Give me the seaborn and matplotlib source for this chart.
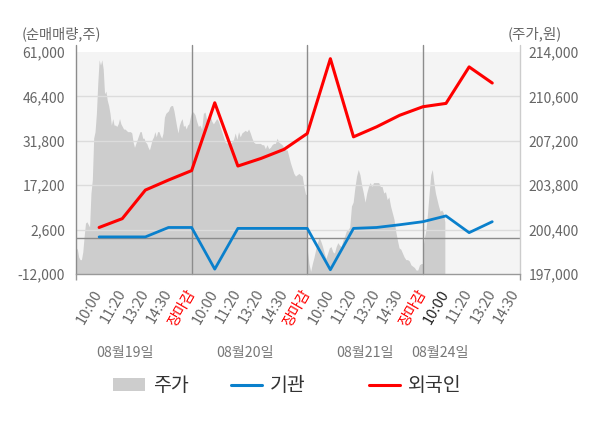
import numpy as np
import pandas as pd
import matplotlib.pyplot as plt
import matplotlib.transforms as mtransforms
import seaborn as sns
from matplotlib.patches import Patch
from matplotlib.lines import Line2D

# x axis labels (4 trading days, intraday checkpoints)
time_labels = ['10:00', '11:20', '13:20', '14:30', '장마감'] * 3 + ['10:00', '11:20', '13:20', '14:30']
date_labels = ['08월19일', '08월20일', '08월21일', '08월24일']

# net buying volume (shares) at each checkpoint
institution = [200, 200, 200, 3300, 3300, -10400, 3000, 3000, 3000, 3000,
               -10600, 3000, 3300, 4200, 5200, 7100, 1600, 5200]
foreign = [3300, 6200, 15600, 18900, 22000, 44300, 23500, 26000, 29000, 34200,
           58800, 33100, 36400, 40200, 43000, 44100, 56100, 50800]

# intraday stock price (won), one list per day
price_day1 = [199000, 198900, 198300, 198100, 198100, 198700, 199900, 200900, 201000, 200800,
              200600, 203200, 204200, 207400, 207900, 209300, 211600, 213400, 213000, 213400,
              212700, 210800, 211000, 210300, 209900, 209300, 208400, 208900, 208400, 208400,
              208300, 208500, 208900, 208500, 208300, 208100, 208100, 208000, 207900, 207900,
              207900, 207800, 207100, 206700, 207000, 207300, 207600, 207900, 207900, 207400,
              207400, 207100, 207000, 206700, 206500, 206900, 207300, 207500, 207900, 207500,
              207900, 207900, 207600, 207400, 207800, 209000, 209300, 209400, 209500, 209800,
              209900, 209900, 209500, 208900, 208300, 207800, 208400, 208700, 208900, 208300,
              208400, 208100, 208400, 208500, 209000, 209400]
price_day2 = [209400, 209400, 209200, 208700, 208300, 208400, 208100, 209300, 209400, 208800,
              209000, 209200, 208700, 208500, 208700, 208900, 208700, 208300, 207900, 207500,
              207100, 207000, 207300, 207000, 207100, 207300, 207800, 207300, 207900, 207500,
              207800, 207900, 208000, 207900, 208100, 207800, 207400, 207100, 207000, 207000,
              207000, 207000, 206900, 206900, 206600, 206900, 206600, 206700, 206900, 207000,
              207000, 207400, 207100, 207000, 206900, 206700, 206500, 206500, 206000, 205500,
              205100, 204700, 204500, 204600, 204700, 204600, 204500, 203700, 203100, 203100]
price_day3 = [198900, 197800, 197200, 197800, 198300, 198900, 199400, 199800, 199500, 199100,
              198600, 198200, 198600, 199000, 199100, 198700, 198600, 199100, 199400, 199200,
              199100, 199600, 199900, 200300, 200400, 200600, 202200, 202500, 203600, 204500,
              205000, 204600, 203800, 203200, 202500, 203200, 203700, 204000, 203700, 204000,
              204000, 204000, 204000, 203700, 203700, 203200, 203300, 202700, 202900, 202200,
              201700, 201200, 200300, 199600, 199000, 198900, 198600, 198300, 198100, 198100,
              198000, 197700, 197600, 197500, 197300, 197300, 197700, 197800, 197800]
price_day4 = [199000, 199800, 200400, 201700, 203200, 204600, 205000, 204000, 203200, 202700,
              202200, 201800, 201900, 201700, 201000]

left_ticks = [-12000, 2600, 17200, 31800, 46400, 61000]
right_ticks = [197000, 200400, 203800, 207200, 210600, 214000]

sns.set_theme(style='white')
plt.rcParams['font.family'] = ['Noto Sans CJK KR', 'DejaVu Sans']

# price samples are spread over each day's slot
day_edges = [-1, 4, 9, 14, 14.95]
price_days = [price_day1, price_day2, price_day3, price_day4]
price_x = np.concatenate([np.linspace(day_edges[i], day_edges[i + 1], len(p))
                          for i, p in enumerate(price_days)])
price = np.concatenate(price_days)

flows = pd.DataFrame({'pos': np.arange(len(foreign)), '기관': institution, '외국인': foreign})
x_right = 18.2

fig = plt.figure(figsize=(6, 4.28), dpi=100)
ax = fig.add_axes([76 / 600, 154 / 428, 444 / 600, 222 / 428])
ax2 = ax.twinx()
ax.set_zorder(ax2.get_zorder() + 1)
ax.patch.set_visible(False)
ax2.patch.set_visible(True)
ax2.set_facecolor('#f4f4f4')

ax2.fill_between(price_x, price, right_ticks[0], color='#cdcdcd', lw=0)
ax2.set_ylim(right_ticks[0], right_ticks[-1])

# grid, zero line and day separators
for v in left_ticks[1:-1]:
    ax.axhline(v, color='#dcdcdc', lw=1, zorder=1)
ax.axhline(0, color='#8c8c8c', lw=1, zorder=2)
for x in day_edges[:-1]:
    ax.axvline(x, ymin=0, ymax=1.03, color='#8c8c8c', lw=1, clip_on=False, zorder=2)
ax.axvline(x_right, ymin=0, ymax=1.03, color='#cccccc', lw=1, clip_on=False, zorder=2)

sns.lineplot(data=flows, x='pos', y='외국인', color='#ff0000', lw=2.2, ax=ax, zorder=4)
sns.lineplot(data=flows, x='pos', y='기관', color='#0a80cc', lw=2.0, ax=ax, zorder=3)

ax.set_xlim(-1, x_right)
ax.set_ylim(left_ticks[0], left_ticks[-1])
ax.set_xlabel('')
ax.set_ylabel('')

ax.set_yticks(left_ticks)
ax.set_yticklabels([f'{v:,}' for v in left_ticks])
ax.tick_params(axis='y', length=0, pad=8, labelsize=10, labelcolor='#666666')
ax2.set_yticks(right_ticks)
ax2.set_yticklabels([f'{v:,}' for v in right_ticks])
ax2.tick_params(axis='y', length=0, pad=6, labelsize=10, labelcolor='#666666')

ax.set_xticks(np.arange(len(time_labels)))
ax.set_xticklabels(time_labels, rotation=60, ha='right', va='center', rotation_mode='anchor')
ax.tick_params(axis='x', which='major', length=0, pad=12, labelsize=10.5, labelcolor='#666666')
for i, lab in enumerate(ax.get_xticklabels()):
    if time_labels[i] == '장마감':
        lab.set_color('#ff0000')
    elif i == 15:
        lab.set_color('#222222')
ax.set_xticks(day_edges[:-1] + [x_right], minor=True)
ax.tick_params(axis='x', which='minor', bottom=True, length=4, width=1, color='#999999')

for name in ['top', 'right', 'left']:
    ax.spines[name].set_visible(False)
    ax2.spines[name].set_visible(False)
ax2.spines['bottom'].set_visible(False)
ax.spines['bottom'].set_color('#999999')
ax.spines['bottom'].set_linewidth(1)

# day labels under the time labels
trans = mtransforms.blended_transform_factory(ax.transData, ax.transAxes)
date_pos = [1.11, 6.31, 11.5, 14.76]
for pos, lab in zip(date_pos, date_labels):
    ax.text(pos, -0.356, lab, transform=trans, ha='center', va='center',
            fontsize=10.2, color='#777777')

fig.text(61 / 600, 1 - 34 / 428, '(순매매량,주)', ha='center', va='center', fontsize=10.3, color='#666666')
fig.text(535 / 600, 1 - 34 / 428, '(주가,원)', ha='center', va='center', fontsize=10.5, color='#666666')

# legend items placed one by one, like the original layout
handles = [Patch(facecolor='#cdcdcd', edgecolor='none'),
           Line2D([], [], color='#0a80cc', lw=2.2),
           Line2D([], [], color='#ff0000', lw=2.2)]
legend_names = ['주가', '기관', '외국인']
legend_centers = [151, 268.5, 415.5]
for h, name, cx in zip(handles, legend_names, legend_centers):
    fig.legend([h], [name], loc='center', bbox_to_anchor=(cx / 600, 1 - 385.7 / 428),
               frameon=False, fontsize=14, handlelength=1.6, handleheight=0.62,
               handletextpad=0.42, labelcolor='#333333')

fig.savefig('out.png', dpi=100)
